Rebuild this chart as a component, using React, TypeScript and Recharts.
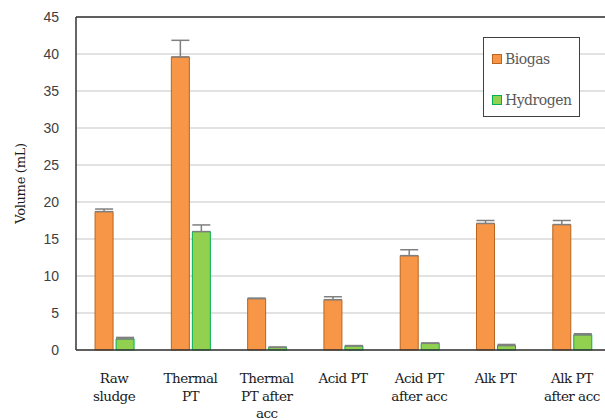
import React from 'react';
import { BarChart, Bar, XAxis, YAxis, CartesianGrid, ErrorBar, ReferenceLine } from 'recharts';

const categoryLines = [
  ['Raw', 'sludge'],
  ['Thermal', 'PT'],
  ['Thermal', 'PT after', 'acc'],
  ['Acid PT'],
  ['Acid PT', 'after acc'],
  ['Alk PT'],
  ['Alk PT', 'after acc'],
];

const biogas = [18.7, 39.6, 6.95, 6.8, 12.75, 17.1, 16.95];
const biogasErr = [0.35, 2.25, 0.05, 0.4, 0.8, 0.4, 0.55];
const hydrogen = [1.5, 16.0, 0.35, 0.55, 0.9, 0.6, 2.05];
const hydrogenErr = [0.2, 0.9, 0.05, 0.05, 0.05, 0.15, 0.15];
const yTicks = [0, 5, 10, 15, 20, 25, 30, 35, 40, 45];

const data = categoryLines.map((lines, i) => ({
  name: lines.join(' '),
  biogas: biogas[i],
  biogasErr: [0, biogasErr[i]],
  hydrogen: hydrogen[i],
  hydrogenErr: [0, hydrogenErr[i]],
}));

const SERIF = 'DejaVu Serif';

function XTick(props: any) {
  const { x, y, index } = props;
  const lines = categoryLines[index] || [];
  return (
    <text x={x} y={y} textAnchor="middle" fontFamily={SERIF} fontSize={13.5} letterSpacing={-0.5} fill="#1a1a1a">
      {lines.map((l, k) => (
        <tspan key={k} x={x} dy={k === 0 ? 31 : 17.5}>{l}</tspan>
      ))}
    </text>
  );
}

function YTitle(props: any) {
  const vb = props.viewBox || { x: 0, y: 0, height: 0 };
  const cx = 20.5;
  const cy = vb.y + vb.height / 2;
  return (
    <text x={cx} y={cy} transform={`rotate(-90 ${cx} ${cy})`} textAnchor="middle" dominantBaseline="central"
      fontFamily={SERIF} fontSize={13} letterSpacing={-0.3} fill="#1a1a1a">
      Volume (mL)
    </text>
  );
}

function LegendBox() {
  const items = [
    { label: 'Biogas', fill: '#f79646', stroke: '#b9651f' },
    { label: 'Hydrogen', fill: '#92d050', stroke: '#00b050' },
  ];
  return (
    <div style={{ position: 'absolute', left: 483, top: 37, width: 97, height: 80, boxSizing: 'border-box', border: '1.5px solid #404040', background: '#fff', paddingTop: 11, paddingLeft: 8 }}>
      {items.map((it, i) => (
        <div key={it.label} style={{ display: 'flex', alignItems: 'center', height: 20, marginTop: i === 0 ? 0 : 21, fontFamily: SERIF, fontSize: 14, letterSpacing: -0.5, color: '#595959' }}>
          <span style={{ width: 8, height: 8, background: it.fill, border: `1px solid ${it.stroke}`, marginRight: 3, display: 'inline-block' }} />
          <span>{it.label}</span>
        </div>
      ))}
    </div>
  );
}

export default function App() {
  return (
    <div style={{ position: 'absolute', left: 0, top: 0, width: 605, height: 420, overflow: 'hidden', background: '#fff' }}>
      <BarChart
        width={620}
        height={420}
        data={data}
        margin={{ top: 17, right: 10, left: 0, bottom: 0 }}
        barCategoryGap="25%"
        barGap={3}
      >
        <CartesianGrid vertical={false} stroke="#d9d9d9" strokeWidth={1.5} />
        <XAxis
          dataKey="name"
          height={70}
          interval={0}
          tickLine={false}
          tickSize={0}
          tick={<XTick />}
          axisLine={{ stroke: '#333', strokeWidth: 1.5 }}
        />
        <YAxis
          width={76}
          domain={[0, 45]}
          ticks={yTicks}
          interval={0}
          tickLine={false}
          tickSize={0}
          tickMargin={17}
          axisLine={{ stroke: '#333', strokeWidth: 1.5 }}
          tick={{ fontFamily: '"Liberation Sans", Arial, sans-serif', fontSize: 14, fill: '#404040' }}
          label={<YTitle />}
        />
        <ReferenceLine y={45} stroke="#333" strokeWidth={1.5} />
        <Bar dataKey="biogas" fill="#f79646" stroke="#b9651f" strokeWidth={1} isAnimationActive={false}>
          <ErrorBar dataKey="biogasErr" width={9} stroke="#7f7f7f" strokeWidth={1.5} direction="y" />
        </Bar>
        <Bar dataKey="hydrogen" fill="#92d050" stroke="#00b050" strokeWidth={1} isAnimationActive={false}>
          <ErrorBar dataKey="hydrogenErr" width={9} stroke="#7f7f7f" strokeWidth={1.5} direction="y" />
        </Bar>
      </BarChart>
      <LegendBox />
    </div>
  );
}
